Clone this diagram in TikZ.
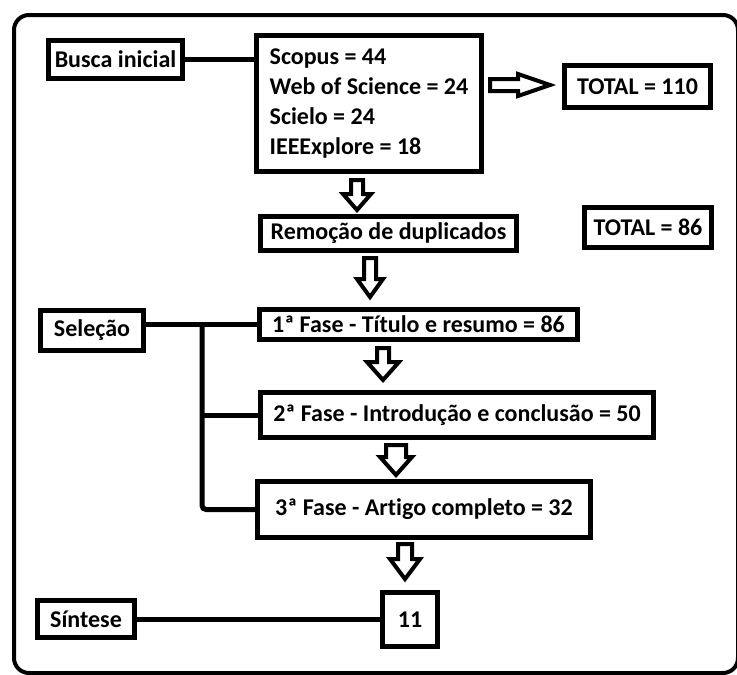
\documentclass[tikz,border=0pt]{standalone}
\usepackage{fontspec}
\setmainfont{Carlito}[Ligatures={NoCommon}]
\begin{document}
\begin{tikzpicture}[x=1pt,y=-1pt,
  box/.style={draw=black,line width=5pt,fill=white,inner sep=0pt,font=\fontsize{24}{30}\selectfont\bfseries},
  conn/.style={draw=black,line width=5pt},
  blockarrow/.style={draw=black,line width=4pt,fill=white,line join=miter}]
\useasboundingbox (0,0) rectangle (737,675);
\fill[white] (0,0) rectangle (737,675);
% outer frame
\draw[line width=4pt,rounded corners=15pt] (14,15) rectangle (738,673);

% nodes
\node[box,minimum width=134pt,minimum height=38pt] (busca) at (115.5,59.5) {Busca inicial};
\node[box,minimum width=225pt,minimum height=136pt,align=left] (scopus) at (369,103.5)
  {Scopus = 44\\Web of Science = 24\\Scielo = 24\\IEEExplore = 18};
\node[box,minimum width=146pt,minimum height=42pt] (total110) at (637.5,86.5) {TOTAL = 110};
\node[box,minimum width=127pt,minimum height=40pt] (total86) at (648,227.5) {TOTAL = 86};
\node[box,minimum width=256pt,minimum height=34pt] (remocao) at (388.5,233.5) {Remoção de duplicados};
\node[box,minimum width=103pt,minimum height=40pt] (selecao) at (92,330.5) {Seleção};
\node[box,minimum width=318pt,minimum height=30pt] (fase1) at (418.5,324.5) {1ª Fase - Título e resumo = 86};
\node[box,minimum width=393pt,minimum height=45pt] (fase2) at (457,415) {2ª Fase - Introdução e conclusão = 50};
\node[box,minimum width=333pt,minimum height=56pt] (fase3) at (424,509.5) {3ª Fase - Artigo completo = 32};
\node[box,minimum width=55pt,minimum height=54pt] (onze) at (410,619.5) {11};
\node[box,minimum width=97pt,minimum height=37pt] (sintese) at (86,619) {Síntese};

% connectors
\coordinate (trunk) at (202,0);
\draw[conn] (busca.east) -- (busca.east -| scopus.west);
\draw[conn] (fase1.west -| selecao.east) -- (fase1.west);
\draw[conn,rounded corners=4pt] (fase1.west -| trunk) -- (fase3.west -| trunk) -- (fase3.west);
\draw[conn] (fase2.west -| trunk) -- (fase2.west);
\draw[conn] (sintese.east) -- (sintese.east -| onze.west);

% block arrows
\newcommand{\blockdown}[6]{%
  \draw[blockarrow] (#1-#5,#2) -- (#1+#5,#2) -- (#1+#5,#3) -- (#1+#6,#3) -- (#1,#4)
    -- (#1-#6,#3) -- (#1-#5,#3) -- cycle;}
\blockdown{357}{180}{194}{210}{6}{14}
\blockdown{370}{258}{279}{297}{6}{13}
\blockdown{383}{348}{362}{380}{6}{16}
\blockdown{396}{445}{457}{475}{10}{16}
\blockdown{405}{544}{559}{579}{7}{15}
\draw[blockarrow] (490,79) -- (518,79) -- (518,74) -- (550,85) -- (518,96) -- (518,91) -- (490,91) -- cycle;
\end{tikzpicture}
\end{document}
